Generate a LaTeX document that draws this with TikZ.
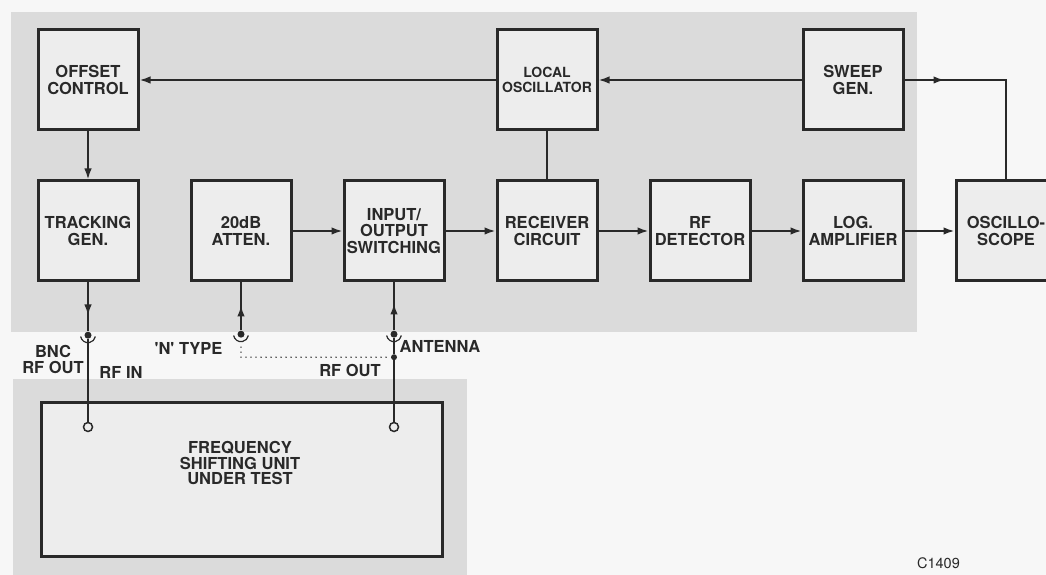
\documentclass[tikz,border=0pt]{standalone}
\usepackage{fontspec}
\setmainfont{TeX Gyre Heros}
\usepackage{tikz}
\usetikzlibrary{arrows.meta, positioning, calc, decorations.markings}
\definecolor{ink}{gray}{0.16}
\definecolor{halftone}{gray}{0.86}
\definecolor{paper}{gray}{0.97}
\definecolor{boxfill}{gray}{0.93}
\tikzset{
  block/.style={draw=ink, line width=3pt, fill=boxfill, text=ink, align=center, minimum width=100pt, minimum height=100pt, inner sep=2pt, font=\bfseries\fontsize{16.5}{16.5}\selectfont},
  smallblock/.style={block, font=\bfseries\fontsize{14}{15.7}\selectfont},
  dut/.style={draw=ink, line width=3pt, fill=boxfill, minimum width=401pt, minimum height=154pt},
  jack/.style={circle, fill=ink, inner sep=0pt, minimum size=7pt},
  port/.style={circle, draw=ink, line width=1.5pt, fill=boxfill, inner sep=0pt, minimum size=9pt},
  link/.style={ink, line width=1.8pt},
  arrow/.style={link, -{Latex[length=11pt, width=7.5pt]}},
  midarrow/.style={postaction={decorate}, decoration={markings, mark=at position #1 with {\arrow{Latex[length=11pt, width=7.5pt]}}}},
  dotline/.style={ink, line width=1.6pt, dash pattern=on 0pt off 5pt, line cap=round},
  note/.style={text=ink, align=center, inner sep=0pt, font=\bfseries\fontsize{16.5}{15.5}\selectfont},
  code/.style={text=ink, inner sep=0pt, font=\fontsize{14.5}{14.5}\selectfont}
}
\begin{document}
\begin{tikzpicture}[x=1pt, y=1pt, node distance=48pt and 50pt]
    \useasboundingbox (0,0) rectangle (1046,575);
    \fill[paper] (0,0) rectangle (1046,575);
    \fill[halftone] (11,243) rectangle (917,563);
    \fill[halftone] (13,0) rectangle (467,196);
    % signal chain
    \node[block] (track) at (88,344) {TRACKING\\GEN.};
    \node[block, right=of track] (atten) {20dB\\ATTEN.};
    \node[block, right=of atten] (switch) {INPUT/\\OUTPUT\\SWITCHING};
    \node[block, right=of switch] (rx) {RECEIVER\\CIRCUIT};
    \node[block, right=of rx] (det) {RF\\DETECTOR};
    \node[block, right=of det] (logamp) {LOG.\\AMPLIFIER};
    \node[block, right=of logamp] (scope) {OSCILLO-\\SCOPE};
    \node[block, above=of track] (offset) {OFFSET\\CONTROL};
    \node[smallblock, above=of rx] (lo) {LOCAL\\OSCILLATOR};
    \node[block, above=of logamp] (sweep) {SWEEP\\GEN.};
    \draw[arrow] (lo) -- (offset);
    \draw[arrow] (sweep) -- (lo);
    \draw[arrow] (offset) -- (track);
    \draw[link] (lo) -- (rx);
    \draw[arrow] (atten) -- (switch);
    \draw[arrow] (switch) -- (rx);
    \draw[arrow] (rx) -- (det);
    \draw[arrow] (det) -- (logamp);
    \draw[arrow] (logamp) -- (scope);
    \coordinate (sweepturn) at (scope.north |- sweep.east);
    \draw[link, midarrow=40pt] (sweep.east) -- (sweepturn) -- (scope.north);
    % sockets
    \node[jack, below=49pt of track] (bncjack) {};
    \node[jack, below=48pt of atten] (attjack) {};
    \node[jack, below=48pt of switch] (swjack) {};
    \draw[link, midarrow=33pt] (track) -- (bncjack);
    \draw[link, midarrow=25pt] (attjack) -- (atten);
    \draw[link, midarrow=27pt] (swjack) -- (switch);
    \draw[link, line width=1.2pt] ($(bncjack)+(190:7.5pt)$) arc[start angle=190, end angle=350, radius=7.5pt];
    \draw[link, line width=1.2pt] ($(attjack)+(190:7.5pt)$) arc[start angle=190, end angle=350, radius=7.5pt];
    \draw[link, line width=1.2pt] ($(swjack)+(190:7.5pt)$) arc[start angle=190, end angle=350, radius=7.5pt];
    % unit under test
    \node[dut] (fsu) at (241.5,95) {};
    \node[note] (fsutext) at (240,112) {FREQUENCY\\SHIFTING UNIT\\UNDER TEST};
    \node[port] (rfin) at (bncjack |- 0,148) {};
    \node[port] (rfout) at (swjack |- 0,148) {};
    \node[jack, minimum size=6pt] (antdot) at ($(swjack)+(0,-23pt)$) {};
    \coordinate (dotstart) at ($(attjack)+(0,-13pt)$);
    \draw[link] (bncjack) -- (rfin);
    \draw[link] (swjack) -- (antdot) -- (rfout);
    \draw[dotline] (dotstart) |- (antdot);
    \node[note] (bnclbl) at (53,215.5) {BNC\\RF OUT};
    \node[note] (rfinlbl) at (121,203) {RF IN};
    \node[note] (ntype) at (188.5,227) {\textquotesingle N\textquotesingle{} TYPE};
    \node[note] (rfoutlbl) at (350,205) {RF OUT};
    \node[note] (antlbl) at (440,229) {ANTENNA};
    \node[code] (figno) at (938.5,12) {C1409};
\end{tikzpicture}
\end{document}
